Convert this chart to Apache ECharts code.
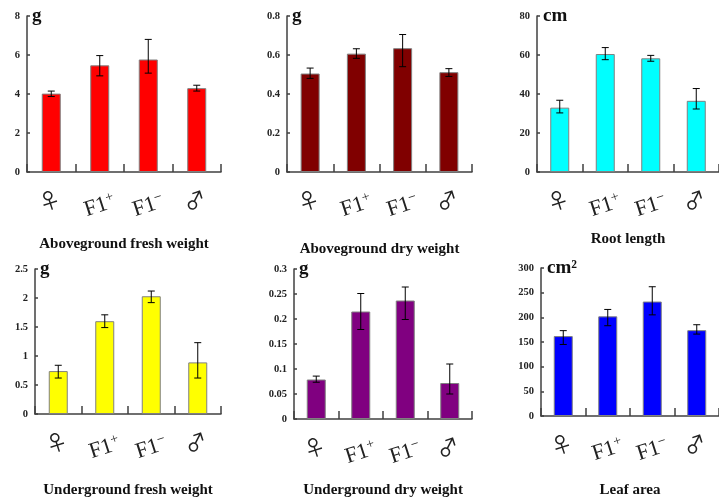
<!DOCTYPE html>
<html>
<head>
<meta charset="utf-8">
<script src="https://cdn.jsdelivr.net/npm/echarts@6/dist/echarts.min.js"></script>
<style>html,body{margin:0;padding:0;background:#fff;}#c{width:719px;height:499px;}</style>
</head>
<body>
<div id="c"></div>
<script>
const categories = ['♀', 'F1+', 'F1−', '♂'];

const titles = ['Aboveground fresh weight', 'Aboveground dry weight', 'Root length',
                'Underground fresh weight', 'Underground dry weight', 'Leaf area'];
const units = ['g', 'g', 'cm', 'g', 'g', 'cm²'];
const colors = ['#ff0000', '#800000', '#00ffff', '#ffff00', '#800080', '#0000ff'];
const axisMax = [8, 0.8, 80, 2.5, 0.3, 300];
const axisStep = [2, 0.2, 20, 0.5, 0.05, 50];

const freshAbove     = [4.02, 5.47, 5.77, 4.30];
const freshAboveLow  = [3.87, 4.93, 5.07, 4.15];
const freshAboveHigh = [4.15, 5.97, 6.80, 4.45];

const dryAbove     = [0.505, 0.607, 0.635, 0.512];
const dryAboveLow  = [0.480, 0.583, 0.540, 0.490];
const dryAboveHigh = [0.533, 0.632, 0.705, 0.530];

const rootLen     = [33.0, 60.5, 58.3, 36.5];
const rootLenLow  = [30.3, 57.6, 56.8, 32.3];
const rootLenHigh = [36.8, 63.8, 59.8, 42.8];

const freshUnder     = [0.74, 1.60, 2.03, 0.89];
const freshUnderLow  = [0.62, 1.49, 1.92, 0.62];
const freshUnderHigh = [0.84, 1.71, 2.12, 1.23];

const dryUnder     = [0.079, 0.215, 0.237, 0.072];
const dryUnderLow  = [0.0735, 0.179, 0.199, 0.050];
const dryUnderHigh = [0.0858, 0.251, 0.264, 0.110];

const leafArea     = [162, 202, 232, 174];
const leafAreaLow  = [145, 183, 205, 166];
const leafAreaHigh = [173, 216, 262, 185];

const values = [freshAbove, dryAbove, rootLen, freshUnder, dryUnder, leafArea];
const lows = [freshAboveLow, dryAboveLow, rootLenLow, freshUnderLow, dryUnderLow, leafAreaLow];
const highs = [freshAboveHigh, dryAboveHigh, rootLenHigh, freshUnderHigh, dryUnderHigh, leafAreaHigh];

// layout
const grids = [
  {left: 27, top: 16, width: 194, height: 156},
  {left: 287, top: 16, width: 185, height: 156},
  {left: 537, top: 16, width: 182, height: 156},
  {left: 35, top: 269, width: 186, height: 154},
  {left: 294, top: 269, width: 178, height: 155},
  {left: 541, top: 268, width: 178, height: 155}
];
const titleGaps = [65, 70, 60, 69, 64, 67];
const unitPad = [5, 5, 6, 5, 5, 6];

const serif = '"Liberation Serif", "Times New Roman", "DejaVu Serif", serif';
const axisColor = '#404040';

function catFormatter(v) {
  if (v === 'F1+') return '{f|F1}{s|+}';
  if (v === 'F1−') return '{f|F1}{s|−}';
  return '{g|' + v + '}';
}

const option = {
  animation: false,
  backgroundColor: '#fff',
  grid: grids.map(g => Object.assign({containLabel: false}, g)),
  xAxis: grids.map((g, i) => ({
    type: 'category',
    gridIndex: i,
    data: categories,
    boundaryGap: true,
    name: titles[i],
    nameLocation: 'middle',
    nameGap: titleGaps[i],
    nameTextStyle: {fontFamily: serif, fontWeight: 'bold', fontSize: 15, color: '#111'},
    axisLine: {show: true, lineStyle: {color: axisColor, width: 1.5}},
    axisTick: {show: true, inside: true, length: 8, alignWithLabel: false, lineStyle: {color: axisColor, width: 1.5}},
    splitLine: {show: false},
    axisLabel: {
      show: true,
      interval: 0,
      rotate: 18,
      align: 'center',
      verticalAlign: 'middle',
      margin: 34,
      formatter: catFormatter,
      rich: {
        f: {fontFamily: serif, fontSize: 22, color: '#222'},
        s: {fontFamily: serif, fontSize: 14, color: '#222', padding: [0, 0, 10, 0]},
        g: {fontFamily: '"Noto Sans CJK SC", "DejaVu Sans", sans-serif', fontSize: 22, color: '#222', padding: [0, 0, 12, 0]}
      }
    }
  })),
  yAxis: grids.map((g, i) => ({
    type: 'value',
    gridIndex: i,
    min: 0,
    max: axisMax[i],
    interval: axisStep[i],
    name: units[i],
    nameLocation: 'end',
    nameGap: 0,
    nameTextStyle: {fontFamily: serif, fontWeight: 'bold', fontSize: 19, color: '#111', align: 'left', verticalAlign: 'middle', padding: [0, 0, 0, unitPad[i]]},
    axisLine: {show: true, lineStyle: {color: axisColor, width: 1.5}},
    axisTick: {show: true, inside: true, length: 3, lineStyle: {color: axisColor, width: 1.5}},
    splitLine: {show: false},
    axisLabel: {fontFamily: serif, fontWeight: 'bold', fontSize: 10.5, color: '#222', margin: 7}
  })),
  series: []
};

values.forEach((vals, i) => {
  option.series.push({
    type: 'bar',
    xAxisIndex: i,
    yAxisIndex: i,
    data: vals,
    barWidth: 19,
    itemStyle: {color: colors[i], borderColor: '#808080', borderWidth: 1}
  });
  option.series.push({
    type: 'custom',
    xAxisIndex: i,
    yAxisIndex: i,
    z: 5,
    data: categories.map((c, k) => [k, lows[i][k], highs[i][k]]),
    encode: {x: 0, y: [1, 2]},
    renderItem: function (params, api) {
      const k = api.value(0);
      const lo = api.coord([k, api.value(1)]);
      const hi = api.coord([k, api.value(2)]);
      const hw = 3.5;
      const st = {stroke: '#000', lineWidth: 1};
      return {
        type: 'group',
        children: [
          {type: 'line', shape: {x1: lo[0], y1: lo[1], x2: hi[0], y2: hi[1]}, style: st},
          {type: 'line', shape: {x1: hi[0] - hw, y1: hi[1], x2: hi[0] + hw, y2: hi[1]}, style: st},
          {type: 'line', shape: {x1: lo[0] - hw, y1: lo[1], x2: lo[0] + hw, y2: lo[1]}, style: st}
        ]
      };
    }
  });
});

const chart = echarts.init(document.getElementById('c'), null, {renderer: 'canvas'});
chart.setOption(option);
</script>
</body>
</html>
